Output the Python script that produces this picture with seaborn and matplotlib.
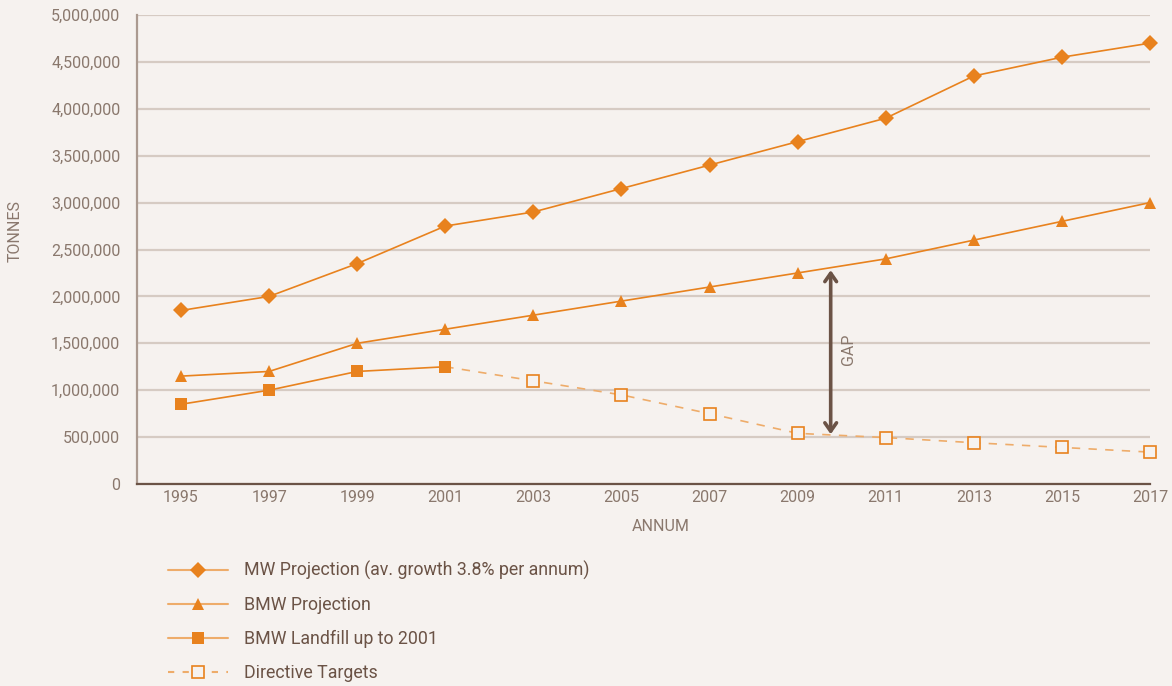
import numpy as np
import pandas as pd
import seaborn as sns
import matplotlib.pyplot as plt
from matplotlib.ticker import FuncFormatter
from matplotlib.lines import Line2D

years = [1995, 1997, 1999, 2001, 2003, 2005, 2007, 2009, 2011, 2013, 2015, 2017]
mw_projection = [1850000, 2000000, 2350000, 2750000, 2900000, 3150000,
                 3400000, 3650000, 3900000, 4350000, 4550000, 4700000]
bmw_projection = [1150000, 1200000, 1500000, 1650000, 1800000, 1950000,
                  2100000, 2250000, 2400000, 2600000, 2800000, 3000000]
landfill_years = [1995, 1997, 1999, 2001]
bmw_landfill = [850000, 1000000, 1200000, 1250000]
target_years = [2001, 2003, 2005, 2007, 2009, 2011, 2013, 2015, 2017]
directive_targets = [1250000, 1100000, 950000, 750000, 540000, 495000, 440000, 390000, 340000]
gap_year = 2009.75
gap_range = [2280000, 530000]

labels = ["MW Projection (av. growth 3.8% per annum)", "BMW Projection",
          "BMW Landfill up to 2001", "Directive Targets"]

BG = "#f6f2ef"
ORANGE = "#e8821e"
LIGHT_ORANGE = "#eeac6a"
GRID = "#d6cbc3"
TEXT = "#8a786d"
DARK = "#6b5346"

sns.set_theme(style="white")
plt.rcParams["font.family"] = ["Roboto", "DejaVu Sans"]

fig = plt.figure(figsize=(11.72, 6.86), dpi=100, facecolor=BG)
ax = fig.add_axes([137 / 1172, 1 - 484 / 686, (1150 - 137) / 1172, (484 - 15) / 686])
ax.set_facecolor(BG)

df_mw = pd.DataFrame({"year": years, "value": mw_projection})
df_bmw = pd.DataFrame({"year": years, "value": bmw_projection})
df_lf = pd.DataFrame({"year": landfill_years, "value": bmw_landfill})
df_tg = pd.DataFrame({"year": target_years, "value": directive_targets})

sns.lineplot(data=df_tg, x="year", y="value", ax=ax, color=LIGHT_ORANGE, lw=1.2,
             linestyle=(0, (5, 5)), zorder=3)
ax.plot(df_tg["year"][1:], df_tg["value"][1:], ls="none", marker="s", ms=8.5,
        mfc=BG, mec=ORANGE, mew=1.2, zorder=4, clip_on=False)
sns.lineplot(data=df_mw, x="year", y="value", ax=ax, color=ORANGE, lw=1.2,
             marker="D", markersize=8.5, markeredgewidth=0, zorder=4, clip_on=False)
sns.lineplot(data=df_bmw, x="year", y="value", ax=ax, color=ORANGE, lw=1.2,
             marker="^", markersize=9, markeredgewidth=0, zorder=4, clip_on=False)
sns.lineplot(data=df_lf, x="year", y="value", ax=ax, color=ORANGE, lw=1.2,
             marker="s", markersize=8, markeredgewidth=0, zorder=5)

# gap arrow between BMW projection and directive target
ax.annotate("", xy=(gap_year, gap_range[0]), xytext=(gap_year, gap_range[1]),
            arrowprops=dict(arrowstyle="<->,head_length=0.5,head_width=0.35",
                            color=DARK, lw=2.6, shrinkA=0, shrinkB=0), zorder=6)
ax.text(gap_year + 0.4, sum(gap_range) / 2 + 30000, "GAP", rotation=90,
        ha="center", va="center", color=TEXT, fontsize=11.5)

ax.set_xlim(1994, 2017)
ax.set_ylim(0, 5000000)
ax.set_xticks(years)
ax.set_yticks(np.arange(0, 5000001, 500000))
ax.yaxis.set_major_formatter(FuncFormatter(lambda v, p: f"{int(v):,}"))
ax.grid(axis="y", color=GRID, lw=1.6)
ax.grid(axis="x", visible=False)
ax.set_axisbelow(True)

for s in ["top", "right"]:
    ax.spines[s].set_visible(False)
ax.spines["left"].set_color("#ab9a90")
ax.spines["left"].set_linewidth(1.6)
ax.spines["bottom"].set_color(DARK)
ax.spines["bottom"].set_linewidth(1.6)

ax.tick_params(axis="x", direction="in", length=11, width=1.2, color="#8a7a70",
               labelsize=11.5, labelcolor=TEXT, pad=4)
ax.tick_params(axis="y", length=0, labelsize=11.5, labelcolor=TEXT, pad=12)

ax.set_xlabel("ANNUM", color=TEXT, fontsize=11.5)
ax.set_ylabel("TONNES", color=TEXT, fontsize=11.5)
ax.xaxis.set_label_coords(0.517, -0.075)
ax.yaxis.set_label_coords(-0.113, 0.54)

handles = [
    Line2D([], [], color=LIGHT_ORANGE, lw=1.5, marker="D", ms=8.5, mfc=ORANGE, mew=0),
    Line2D([], [], color=LIGHT_ORANGE, lw=1.5, marker="^", ms=8, mfc=ORANGE, mew=0),
    Line2D([], [], color=LIGHT_ORANGE, lw=1.5, marker="s", ms=8, mfc=ORANGE, mew=0),
    Line2D([], [], color=LIGHT_ORANGE, lw=1.5, ls=(0, (3, 4)), marker="s", ms=8.5,
           mfc=BG, mec=ORANGE, mew=1.2),
]
leg = fig.legend(handles, labels, loc="upper left", bbox_to_anchor=(152 / 1172, 1 - 545 / 686),
                 frameon=False, fontsize=12.8, handlelength=3.4, handletextpad=0.9,
                 labelspacing=0.9, labelcolor=DARK)

fig.savefig("out.png", dpi=100, facecolor=BG)
